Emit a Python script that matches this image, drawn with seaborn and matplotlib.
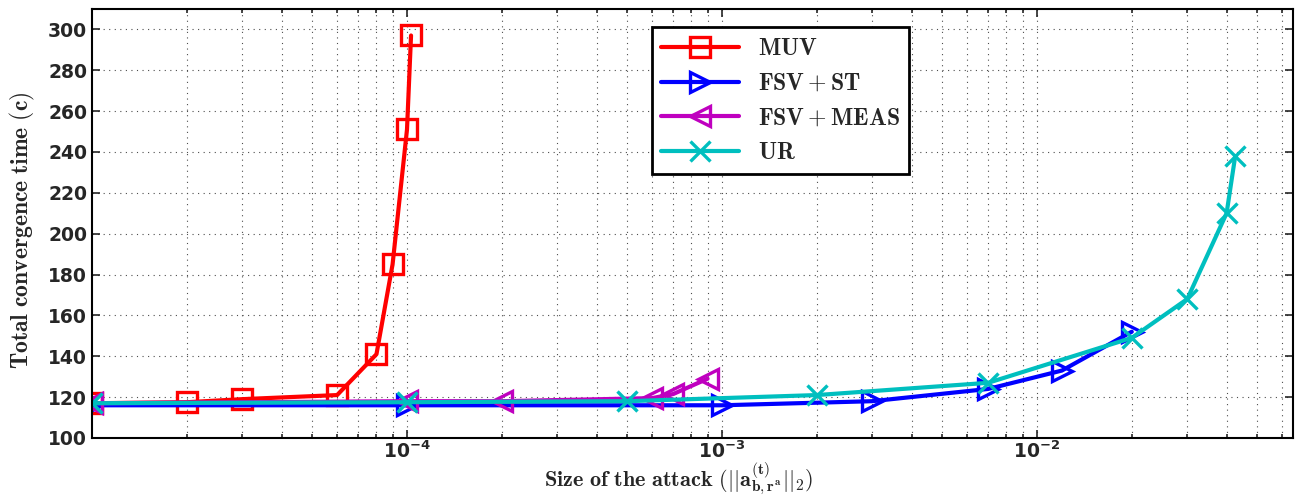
import matplotlib.pyplot as plt
import seaborn as sns

# values
attack_muv = [1e-5, 2e-5, 3e-5, 6e-5, 8e-5, 9e-5, 1.0e-4, 1.03e-4]
time_muv = [117, 117.5, 119, 121, 141, 185, 251, 297]

attack_fsv_st = [1e-5, 1e-4, 1e-3, 3e-3, 7e-3, 1.2e-2, 2e-2]
time_fsv_st = [116, 116, 116, 118, 124, 133, 152]

attack_fsv_meas = [1e-5, 1e-4, 2e-4, 6e-4, 7e-4, 9e-4]
time_fsv_meas = [117, 118, 118, 119.5, 121.5, 129]

attack_ur = [1e-5, 1e-4, 5e-4, 2e-3, 7e-3, 2e-2, 3e-2, 4e-2, 4.26e-2]
time_ur = [117, 117.5, 118, 121, 127, 149, 168, 210, 238]

y_ticks = list(range(100, 301, 20))

sns.set_style("ticks")
plt.rcParams['font.family'] = ['DejaVu Sans']
plt.rcParams['font.weight'] = 'bold'
plt.rcParams['mathtext.fontset'] = 'cm'

fig = plt.figure(figsize=(12.96, 4.96), dpi=100)
ax = fig.add_axes([0.071, 0.117, 0.9267, 0.865])
ax.set_xscale('log')

series = [
    (attack_muv, time_muv, r'$\mathbf{MUV}$', 'red', 's', 14),
    (attack_fsv_st, time_fsv_st, r'$\mathbf{FSV+ST}$', 'blue', '>', 15),
    (attack_fsv_meas, time_fsv_meas, r'$\mathbf{FSV+MEAS}$', '#bf00bf', '<', 15),
    (attack_ur, time_ur, r'$\mathbf{UR}$', '#00bfbf', 'x', 15),
]
for xs, ys, name, col, mk, ms in series:
    sns.lineplot(x=xs, y=ys, ax=ax, color=col, marker=mk, markersize=ms,
                 mfc='none', mec=col, mew=2.4, lw=3, label=name,
                 sort=False, estimator=None)

ax.set_xlim(1e-5, 0.065)
ax.set_ylim(100, 310)
ax.set_yticks(y_ticks)
ax.set_xticks([1e-4, 1e-3, 1e-2])

ax.grid(True, which='major', axis='both', color='0.3', linestyle=(0, (1, 4)), lw=0.8)
ax.grid(True, which='minor', axis='x', color='0.3', linestyle=(0, (1, 4)), lw=0.8)
ax.tick_params(which='both', direction='in', top=True, right=True, labelsize=13.5, width=1.2)
ax.tick_params(which='major', length=6)
ax.tick_params(which='minor', length=3)
ax.tick_params(axis='x', which='major', pad=2)
for sp in ax.spines.values():
    sp.set_linewidth(1.5)
    sp.set_color('black')
for lab in ax.get_xticklabels() + ax.get_yticklabels():
    lab.set_fontweight('bold')

ax.set_ylabel(r'$\mathbf{Total\ convergence\ time\ (c)}$', fontsize=17)
ax.set_xlabel(r'$\mathbf{Size\ of\ the\ attack\ (||a^{(t)}_{b,r^a}||_2)}$', fontsize=16)
ax.yaxis.set_label_coords(-0.046, 0.485)
ax.xaxis.set_label_coords(0.488, -0.053)

leg = ax.legend(loc='upper left', bbox_to_anchor=(0.466, 0.958), fontsize=17,
                handlelength=3.3, fancybox=False, framealpha=1, borderaxespad=0,
                edgecolor='black', borderpad=0.4, labelspacing=0.45)
leg.get_frame().set_linewidth(2)

plt.savefig('out.png', dpi=100)
